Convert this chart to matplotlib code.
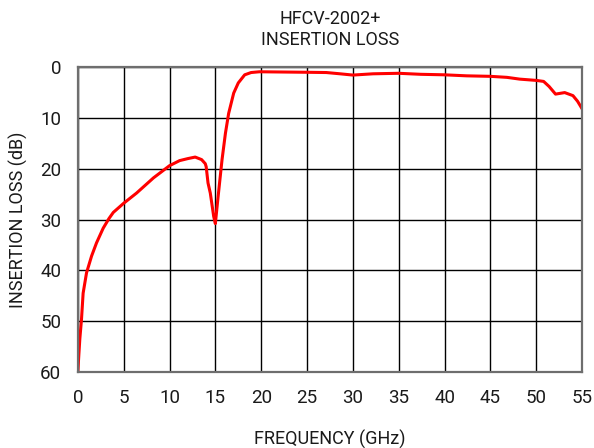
import matplotlib.pyplot as plt
import numpy as np

# insertion loss
freq_ghz = [0.0, 0.1, 0.22, 0.4, 0.58, 0.95, 1.5, 2.04, 2.77, 3.4, 3.87, 5.0,
            6.4, 8.25, 10.0, 11.1, 12.0, 12.8, 13.5, 13.9, 14.0, 14.2, 14.45,
            14.82, 15.0, 15.3, 15.73, 16.1, 16.45, 17.0, 17.5, 18.2, 18.9, 19.8,
            25.0, 27.1, 28.6, 30.0, 32.2, 35.0, 37.4, 40.0, 42.4, 45.0, 46.8,
            48.2, 50.0, 50.8, 51.4, 52.1, 53.1, 54.0, 54.5, 55.0]
loss_db = [60.0, 57.0, 53.5, 49.7, 44.5, 40.5, 37.2, 34.6, 31.7, 29.8, 28.6, 26.8,
           24.8, 21.8, 19.4, 18.4, 18.0, 17.7, 18.2, 19.0, 19.6, 22.8, 24.8,
           29.4, 30.8, 25.5, 18.2, 13.0, 9.1, 5.1, 3.1, 1.5, 1.05, 0.9,
           1.0, 1.05, 1.3, 1.55, 1.3, 1.2, 1.4, 1.5, 1.7, 1.8, 2.0,
           2.35, 2.6, 2.8, 3.8, 5.3, 5.0, 5.6, 6.7, 8.2]

x_ticks = list(range(0, 56, 5))
y_ticks = list(range(0, 61, 10))

plt.rcParams["font.family"] = ["Roboto", "DejaVu Sans"]

fig = plt.figure(figsize=(5.94, 4.48), dpi=100)
ax = fig.add_axes([0.131, 0.17, 0.849, 0.68])

ax.plot(freq_ghz, loss_db, color="#ff0000", lw=2.2,
        solid_capstyle="round", solid_joinstyle="round")

ax.set_xlim(0, 55)
ax.set_ylim(60, 0)
ax.set_xticks(x_ticks)
ax.set_yticks(y_ticks)
ax.tick_params(length=0, labelsize=13.5, colors="#1a1a1a")
ax.tick_params(axis="x", pad=12.5)
ax.tick_params(axis="y", pad=12)
ax.grid(True, color="black", lw=1.0)
for side in ax.spines.values():
    side.set_color("#6e6e6e")
    side.set_linewidth(1.6)

ax.set_xlabel("FREQUENCY (GHz)", fontsize=13, color="#1a1a1a", labelpad=16)
ax.set_ylabel("INSERTION LOSS (dB)", fontsize=13, color="#1a1a1a", labelpad=9)
ax.set_title("HFCV-2002+\nINSERTION LOSS", fontsize=13, color="#1a1a1a",
             linespacing=1.2, pad=16)

fig.savefig("out.png", dpi=100)
